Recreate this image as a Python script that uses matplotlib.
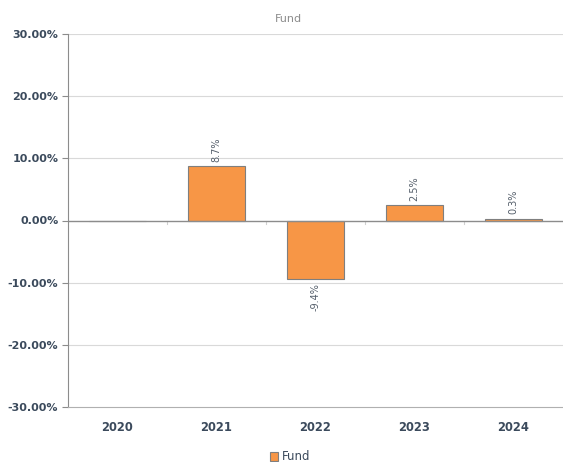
import numpy as np
import matplotlib.pyplot as plt
from matplotlib.patches import Patch
from matplotlib.ticker import FuncFormatter

years = ["2020", "2021", "2022", "2023", "2024"]
fund = [0.0, 8.7, -9.4, 2.5, 0.3]
labels = ["", "8.7%", "-9.4%", "2.5%", "0.3%"]

bar_color = "#f79646"
edge_color = "#7f7f7f"
text_color = "#3b4a5c"

fig = plt.figure(figsize=(5.63, 4.62), dpi=100)
ax = fig.add_axes([68 / 563, 1 - 407 / 462, 495 / 563, 373 / 462])

x = np.arange(len(years))
bars = ax.bar(x, fund, width=0.57, color=bar_color, edgecolor=edge_color, linewidth=0.8, zorder=3)

# data labels, rotated
for b, v, lab in zip(bars, fund, labels):
    if lab == "":
        continue
    cx = b.get_x() + b.get_width() / 2
    if v >= 0:
        ax.annotate(lab, (cx, v), xytext=(0, 3), textcoords="offset points",
                    rotation=90, ha="center", va="bottom", fontsize=7, color="#555f6b")
    else:
        ax.annotate(lab, (cx, v), xytext=(0, -3), textcoords="offset points",
                    rotation=90, ha="center", va="top", fontsize=7, color="#555f6b")

ax.set_ylim(-30, 30)
ax.set_xlim(-0.5, 4.5)
ax.set_yticks(np.arange(-30, 31, 10))
ax.yaxis.set_major_formatter(FuncFormatter(lambda v, p: f"{v:.2f}%"))
ax.set_xticks(x)
ax.set_xticklabels(years)

# gridlines
for yv in np.arange(-20, 31, 10):
    if yv == 0:
        continue
    ax.axhline(yv, color="#d9d9d9", linewidth=0.8, zorder=1)
ax.axhline(0, color="#8c8c8c", linewidth=1.0, zorder=4)
# small ticks between categories on zero line
for xv in np.arange(0.5, 4.5, 1.0):
    ax.plot([xv, xv], [0, -0.6], color="#d0d0d0", linewidth=0.8, zorder=2)

for s in ["top", "right"]:
    ax.spines[s].set_visible(False)
ax.spines["left"].set_color("#8c8c8c")
ax.spines["bottom"].set_color("#b0b0b0")

ax.tick_params(axis="y", length=4, color="#8c8c8c", labelsize=8, labelcolor=text_color, pad=3)
ax.tick_params(axis="x", length=0, labelsize=8.3, labelcolor=text_color, pad=10)
for t in ax.get_yticklabels() + ax.get_xticklabels():
    t.set_fontweight("bold")

fig.text(288 / 563, 1 - 19 / 462, "Fund", ha="center", va="center", fontsize=8, color="#8c8c8c")

handle = Patch(facecolor=bar_color, edgecolor=edge_color, linewidth=0.8)
fig.legend([handle], ["Fund"], loc="center", bbox_to_anchor=(290 / 563, 1 - 457 / 462),
           frameon=False, fontsize=8.5, handlelength=0.7, handleheight=0.7, handletextpad=0.3,
           labelcolor=text_color)

fig.savefig("out.png", dpi=100)
